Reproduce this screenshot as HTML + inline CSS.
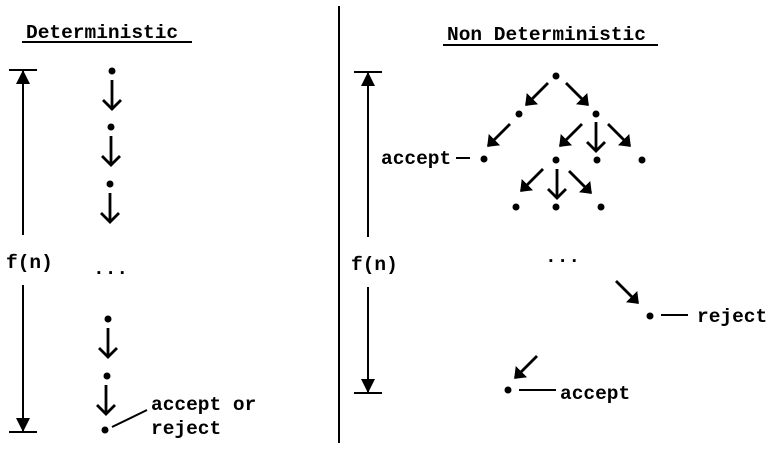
<!DOCTYPE html>
<html><head><style>html,body{margin:0;padding:0;background:#fff;}svg{display:block}</style></head>
<body>
<svg width="775" height="458" viewBox="0 0 775 458" xmlns="http://www.w3.org/2000/svg">
<defs>
<marker id="v" markerWidth="14" markerHeight="22" refX="10" refY="10" orient="auto" markerUnits="userSpaceOnUse"><path d="M1,1 L10,10 L1,19" fill="none" stroke="#000" stroke-width="2.8"/></marker>
<marker id="d" markerWidth="12" markerHeight="18" refX="9" refY="8" orient="auto" markerUnits="userSpaceOnUse"><path d="M0,1 L9,8 L0,15 Z" fill="#000" stroke="#000" stroke-width="1.5"/></marker>
<marker id="f" markerWidth="14" markerHeight="14" refX="13" refY="7" orient="auto" markerUnits="userSpaceOnUse"><path d="M0,0 L14,7 L0,14 Z" fill="#000"/></marker>
</defs>
<g font-family="'Liberation Mono', monospace" font-weight="bold" font-size="19.5" fill="#000">
<text x="26" y="38">Deterministic</text>
<text x="447" y="40">Non Deterministic</text>
<text x="6" y="268">f(n)</text>
<text x="351" y="270">f(n)</text>
<text x="93" y="274">...</text>
<text x="545" y="262">...</text>
<text x="151" y="410">accept or</text>
<text x="151" y="434">reject</text>
<text x="381" y="164">accept</text>
<text x="697" y="322">reject</text>
<text x="560" y="399">accept</text>
</g>
<g stroke="#000" stroke-width="2" fill="none">
<line x1="22" y1="42" x2="192" y2="42"/>
<line x1="443" y1="45" x2="658" y2="45"/>
<line x1="339" y1="6" x2="339" y2="443"/>
<line x1="9" y1="70" x2="37" y2="70"/>
<line x1="9" y1="432" x2="37" y2="432"/>
<line x1="23" y1="235" x2="23" y2="71" marker-end="url(#f)"/>
<line x1="23" y1="285" x2="23" y2="431" marker-end="url(#f)"/>
<line x1="354" y1="72" x2="382" y2="72"/>
<line x1="354" y1="393" x2="382" y2="393"/>
<line x1="368" y1="237" x2="368" y2="73" marker-end="url(#f)"/>
<line x1="368" y1="287" x2="368" y2="392" marker-end="url(#f)"/>
</g>
<g stroke="#000" stroke-width="2.8" fill="none" marker-end="url(#v)">
<line x1="112" y1="80" x2="112" y2="109"/>
<line x1="111" y1="136" x2="111" y2="165"/>
<line x1="110" y1="193" x2="110" y2="222"/>
<line x1="108" y1="328" x2="108" y2="357"/>
<line x1="106" y1="385" x2="106" y2="414"/>
<line x1="596" y1="122" x2="596" y2="151"/>
<line x1="557" y1="169" x2="557" y2="198"/>
</g>
<g stroke="#000" stroke-width="2.8" fill="none" marker-end="url(#d)">
<line x1="548" y1="83" x2="526" y2="105"/>
<line x1="566" y1="83" x2="588" y2="105"/>
<line x1="510" y1="124" x2="488" y2="146"/>
<line x1="582" y1="124" x2="560" y2="146"/>
<line x1="608" y1="124" x2="630" y2="146"/>
<line x1="543" y1="169" x2="521" y2="191"/>
<line x1="569" y1="171" x2="591" y2="193"/>
<line x1="616" y1="281" x2="638" y2="303"/>
<line x1="537" y1="356" x2="515" y2="378"/>
</g>
<g stroke="#000" stroke-width="2">
<line x1="112" y1="427" x2="147" y2="410"/>
<line x1="456" y1="158" x2="470" y2="158"/>
<line x1="661" y1="315" x2="688" y2="315"/>
<line x1="519" y1="390" x2="556" y2="390"/>
</g>
<g fill="#000">
<circle cx="112" cy="71" r="3.5"/><circle cx="111" cy="127" r="3.5"/><circle cx="110" cy="184" r="3.5"/>
<circle cx="108" cy="319" r="3.5"/><circle cx="107" cy="376" r="3.5"/><circle cx="105" cy="430" r="3.5"/>
<circle cx="556" cy="76" r="3.5"/><circle cx="519" cy="114" r="3.5"/><circle cx="596" cy="114" r="3.5"/>
<circle cx="484" cy="159" r="3.5"/><circle cx="556" cy="160" r="3.5"/><circle cx="597" cy="160" r="3.5"/><circle cx="642" cy="160" r="3.5"/>
<circle cx="516" cy="207" r="3.5"/><circle cx="556" cy="207" r="3.5"/><circle cx="601" cy="207" r="3.5"/>
<circle cx="650" cy="316" r="3.5"/><circle cx="508" cy="390" r="3.5"/>
</g>
</svg>
</body></html>
